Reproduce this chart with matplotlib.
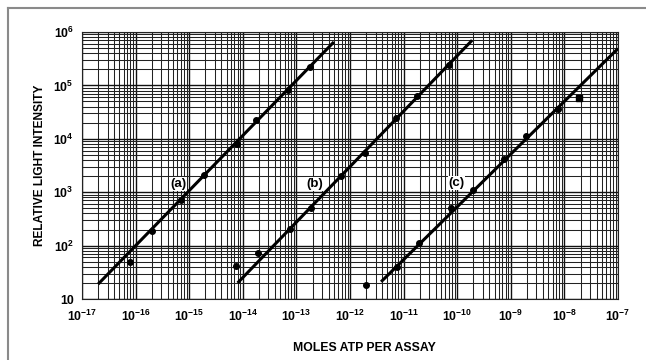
import matplotlib
matplotlib.use("Agg")
import matplotlib.pyplot as plt
from matplotlib.lines import Line2D
from matplotlib.ticker import LogLocator, FixedLocator, FixedFormatter, NullFormatter

plt.rcParams['font.family'] = ['Liberation Sans', 'DejaVu Sans']
plt.rcParams['font.weight'] = 'bold'
plt.rcParams['mathtext.fontset'] = 'custom'
plt.rcParams['mathtext.rm'] = 'Liberation Sans:bold'
plt.rcParams['mathtext.it'] = 'Liberation Sans:bold'
plt.rcParams['mathtext.bf'] = 'Liberation Sans:bold'

# curve (a)
a_x = [8e-17, 2e-16, 7e-16, 1.9e-15, 7.8e-15, 1.8e-14, 7e-14, 1.8e-13]
a_y = [49, 186, 708, 2090, 8130, 22900, 83000, 219000]
a_fit_x = [2e-17, 5e-13]
a_fit_y = [19, 6.5e5]

# curve (b)
b_x = [7.4e-15, 1.9e-14, 7.6e-14, 1.9e-13, 6.8e-13, 1.9e-12, 7.2e-12, 1.8e-11, 7.1e-11]
b_y = [42, 74, 204, 513, 2000, 5370, 24500, 63000, 245000]
b_fit_x = [8e-15, 1.9e-10]
b_fit_y = [20, 7e5]

# curve (c)
c_x = [2e-12, 7.6e-12, 1.9e-11, 7.6e-11, 1.95e-10, 7.6e-10, 1.9e-9, 7.6e-9]
c_y = [18, 40, 112, 500, 1100, 4200, 11200, 36000]
c_fit_x = [3.8e-12, 1e-7]
c_fit_y = [21, 4.9e5]
c_odd_x = [1.9e-8]
c_odd_y = [57500]

# curve labels
lab_text = ['(a)', '(b)', '(c)']
lab_x = [6.2e-16, 2.2e-13, 9.8e-11]
lab_y = [1420, 1420, 1480]

x_ticks = [10.0 ** e for e in range(-17, -6)]
x_labels = ['$10^{%d}$' % e for e in range(-17, -6)]
y_ticks = [10, 100, 1e3, 1e4, 1e5, 1e6]
y_labels = ['10', '$10^2$', '$10^3$', '$10^4$', '$10^5$', '$10^6$']

fig = plt.figure(figsize=(6.46, 3.6), dpi=100)
ax = fig.add_axes([82 / 646, 1 - 299 / 360, 536 / 646, 267 / 360])
ax.set_xscale('log')
ax.set_yscale('log')
ax.set_xlim(1e-17, 1e-7)
ax.set_ylim(10, 1e6)

# graph paper grid
ax.xaxis.set_major_locator(FixedLocator(x_ticks))
ax.xaxis.set_major_formatter(FixedFormatter(x_labels))
ax.yaxis.set_major_locator(FixedLocator(y_ticks))
ax.yaxis.set_major_formatter(FixedFormatter(y_labels))
ax.xaxis.set_minor_locator(LogLocator(base=10, subs=range(2, 10), numticks=30))
ax.yaxis.set_minor_locator(LogLocator(base=10, subs=range(2, 10), numticks=30))
ax.xaxis.set_minor_formatter(NullFormatter())
ax.yaxis.set_minor_formatter(NullFormatter())
ax.grid(which='major', color='#111111', lw=1.0)
ax.grid(which='minor', color='#222222', lw=0.75)
ax.set_axisbelow(True)
ax.tick_params(which='both', length=0, labelsize=8.8)
ax.tick_params(axis='x', pad=7)
ax.tick_params(axis='y', pad=6)
for s in ax.spines.values():
    s.set_color('#222222')
    s.set_linewidth(0.8)

# fitted lines and points
for fx, fy in [(a_fit_x, a_fit_y), (b_fit_x, b_fit_y), (c_fit_x, c_fit_y)]:
    ax.plot(fx, fy, color='black', lw=2.2, solid_capstyle='butt', zorder=3)
for px, py in [(a_x, a_y), (b_x, b_y), (c_x, c_y)]:
    ax.plot(px, py, 'o', color='black', ms=4, zorder=4)
ax.plot(c_odd_x, c_odd_y, 's', color='black', ms=3.8, zorder=4)

for t, x, y in zip(lab_text, lab_x, lab_y):
    ax.text(x, y, t, fontsize=9.5, fontweight='bold', ha='center', va='center', zorder=5,
            bbox=dict(facecolor='white', edgecolor='none', pad=0.5))

fig.text(364 / 646, 1 - 348 / 360, 'MOLES ATP PER ASSAY', fontsize=8.8, fontweight='bold',
         ha='center', va='center')
fig.text(40 / 646, 1 - 165 / 360, 'RELATIVE LIGHT INTENSITY', fontsize=8.6, fontweight='bold',
         ha='center', va='center', rotation=90)

# scan border on top and left
fig.add_artist(Line2D([8 / 646, 8 / 646], [0, 1 - 8 / 360], transform=fig.transFigure,
                      color='#8a8a8a', lw=1.5))
fig.add_artist(Line2D([8 / 646, 1], [1 - 8 / 360, 1 - 8 / 360], transform=fig.transFigure,
                      color='#8a8a8a', lw=1.5))

fig.savefig('out.png', dpi=100)
